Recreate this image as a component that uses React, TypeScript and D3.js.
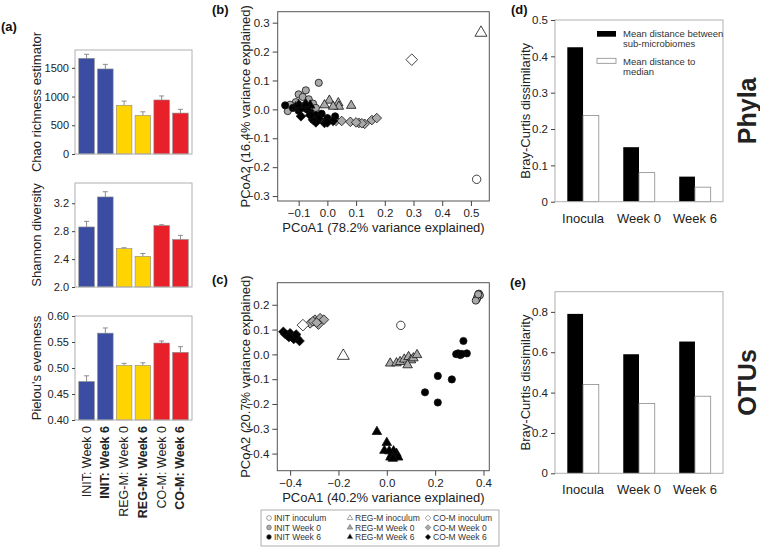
import { useEffect, useRef } from "react";
import * as d3 from "d3";

const FONT = "'Liberation Sans', Arial, Helvetica, sans-serif";

// ---- (a) alpha diversity ----
const groups = ["INIT: Week 0", "INIT: Week 6", "REG-M: Week 0", "REG-M: Week 6", "CO-M: Week 0", "CO-M: Week 6"];
const groupBold = [false, true, false, true, false, true];
const groupColors = ["#3b4da2", "#3b4da2", "#ffd400", "#ffd400", "#e8202a", "#e8202a"];

const chaoMean = [1665, 1480, 848, 672, 940, 712];
const chaoErr = [70, 80, 72, 62, 70, 65];
const chaoTicks = [0, 500, 1000, 1500];

const shannonMean = [2.86, 3.29, 2.55, 2.44, 2.88, 2.68];
const shannonErr = [0.08, 0.075, 0.012, 0.04, 0.012, 0.06];
const shannonTicks = [2.0, 2.4, 2.8, 3.2];

const pielouMean = [0.474, 0.567, 0.505, 0.505, 0.548, 0.53];
const pielouErr = [0.011, 0.01, 0.004, 0.005, 0.004, 0.011];
const pielouTicks = [0.4, 0.45, 0.5, 0.55, 0.6];

// ---- (b) PCoA phyla ----
const phylaInitInoc = [[0.52, -0.242]];
const phylaInitW0 = [[-0.03, 0.092], [-0.075, 0.066], [-0.1, 0.052], [-0.086, 0.043], [-0.065, 0.035], [-0.11, 0.025], [-0.138, -0.006], [-0.12, 0.01], [-0.05, 0.02], [-0.09, 0.012], [-0.04, 0.005], [-0.13, 0.016]];
const phylaInitW6 = [[-0.147, 0.014], [-0.12, 0.005], [-0.1, -0.005], [-0.06, -0.01], [-0.04, -0.02], [-0.02, -0.015], [0.0, -0.03], [0.027, -0.024], [-0.07, 0.0], [-0.05, -0.035]];
const phylaRegInoc = [[0.535, 0.265]];
const phylaRegW0 = [[0.007, 0.031], [0.038, 0.022], [0.083, 0.013], [0.04, 0.01], [0.02, 0.01], [-0.01, 0.015]];
const phylaRegW6 = [[-0.11, 0.008], [-0.095, 0.01], [-0.08, 0.012], [-0.07, 0.006], [-0.06, 0.014], [-0.09, 0.003], [-0.1, 0.015], [-0.075, 0.018]];
const phylaCoInoc = [[0.294, 0.172]];
const phylaCoW0 = [[0.0, -0.035], [0.03, -0.04], [0.05, -0.04], [0.08, -0.043], [0.11, -0.047], [0.13, -0.05], [0.12, -0.048], [0.155, -0.037], [0.172, -0.03], [0.1, -0.045]];
const phylaCoW6 = [[-0.092, -0.024], [-0.05, -0.036], [-0.03, -0.032], [-0.01, -0.047], [0.02, -0.04], [-0.06, -0.02], [-0.04, -0.045], [0.0, -0.045]];

// ---- (c) PCoA OTUs ----
const otuInitInoc = [[0.058, 0.117]];
const otuInitW0 = [[0.372, 0.222], [0.376, 0.235], [0.381, 0.245], [0.385, 0.238], [0.374, 0.228], [0.368, 0.217], [0.378, 0.242]];
const otuInitW6 = [[0.317, 0.054], [0.287, 0.001], [0.304, -0.003], [0.331, 0.004], [0.295, 0.004], [0.269, -0.101], [0.211, -0.087], [0.158, -0.153], [0.211, -0.194], [0.31, 0.002]];
const otuRegInoc = [[-0.18, -0.006]];
const otuRegW0 = [[0.014, -0.036], [0.04, -0.035], [0.055, -0.03], [0.072, -0.02], [0.09, -0.01], [0.1, -0.023], [0.086, -0.043], [0.11, -0.015], [0.125, -0.002]];
const otuRegW6 = [[-0.041, -0.312], [0.0, -0.356], [-0.01, -0.388], [0.02, -0.405], [0.035, -0.41], [0.015, -0.415], [0.04, -0.4], [0.028, -0.39], [0.047, -0.415], [0.01, -0.39], [0.025, -0.42]];
const otuCoInoc = [[-0.347, 0.118]];
const otuCoW0 = [[-0.317, 0.125], [-0.297, 0.14], [-0.276, 0.146], [-0.26, 0.14], [-0.283, 0.12], [-0.306, 0.133], [-0.29, 0.128]];
const otuCoW6 = [[-0.428, 0.091], [-0.414, 0.078], [-0.393, 0.071], [-0.372, 0.065], [-0.361, 0.054], [-0.4, 0.085], [-0.385, 0.062], [-0.42, 0.082], [-0.405, 0.07], [-0.375, 0.08]];

const seriesNames = ["INIT inoculum", "INIT Week 0", "INIT Week 6", "REG-M inoculum", "REG-M Week 0", "REG-M Week 6", "CO-M inoculum", "CO-M Week 0", "CO-M Week 6"];
const seriesShape = ["circle", "circle", "circle", "triangle", "triangle", "triangle", "diamond", "diamond", "diamond"];
const seriesFill = ["#fff", "#a9a9a9", "#000", "#fff", "#a9a9a9", "#000", "#fff", "#a9a9a9", "#000"];
const phylaSeries = [phylaInitInoc, phylaInitW0, phylaInitW6, phylaRegInoc, phylaRegW0, phylaRegW6, phylaCoInoc, phylaCoW0, phylaCoW6];
const otuSeries = [otuInitInoc, otuInitW0, otuInitW6, otuRegInoc, otuRegW0, otuRegW6, otuCoInoc, otuCoW0, otuCoW6];
// draw grey first, then black, then open inocula
const drawOrder = [1, 4, 7, 2, 5, 8, 0, 3, 6];

// ---- (d)/(e) Bray-Curtis ----
const bcCats = ["Inocula", "Week 0", "Week 6"];
const phylaBetween = [0.425, 0.15, 0.069];
const phylaMedian = [0.237, 0.08, 0.04];
const otuBetween = [0.79, 0.59, 0.653];
const otuMedian = [0.44, 0.346, 0.382];

const shapePath = (shape: string, s: number) => {
  if (shape === "circle") return `M${s},0A${s},${s} 0 1,1 ${-s},0A${s},${s} 0 1,1 ${s},0Z`;
  if (shape === "triangle") {
    const h = (s * Math.sqrt(3)) / 2;
    return `M0,${(-h * 2) / 3}L${s / 2},${h / 3}L${-s / 2},${h / 3}Z`;
  }
  return `M0,${-s}L${s},0L0,${s}L${-s},0Z`;
};

const markSize = (shape: string, inoc: boolean) => {
  if (shape === "circle") return inoc ? 4.2 : 3.6;
  if (shape === "triangle") return inoc ? 12 : 9.5;
  return inoc ? 5.8 : 4.8;
};

const Axis = ({ axis, transform, fontSize = 11 }: any) => {
  const ref = useRef<SVGGElement>(null);
  useEffect(() => {
    const g = d3.select(ref.current);
    g.call(axis);
    g.select(".domain").remove();
    g.selectAll(".tick line").attr("stroke", "#444");
    g.selectAll(".tick text")
      .attr("font-size", fontSize)
      .attr("font-family", FONT)
      .attr("fill", "#222");
  }, [axis]);
  return <g ref={ref} transform={transform} />;
};

const RotLabel = ({ x, y, text, size = 13, bold = false }: any) => (
  <text
    transform={`translate(${x},${y}) rotate(-90)`}
    textAnchor="middle"
    dominantBaseline="central"
    fontSize={size}
    fontWeight={bold ? "bold" : "normal"}
    fill="#222"
  >
    {text}
  </text>
);

const barX = d3.scaleBand().domain(groups).range([75, 192]).paddingInner(0.17).paddingOuter(0.2);

const AlphaPanel = ({ top, bottom, domain, ticks, fmt, mean, err, label }: any) => {
  const y = d3.scaleLinear().domain(domain).range([bottom, top]);
  const yAxis = d3.axisLeft(y).tickValues(ticks).tickFormat(fmt).tickSize(3).tickPadding(3);
  return (
    <g>
      {groups.map((g, i) => {
        const x0 = barX(g)!;
        const cx = x0 + barX.bandwidth() / 2;
        const yt = y(mean[i]);
        const ye = y(mean[i] + err[i]);
        return (
          <g key={g}>
            <line x1={cx} x2={cx} y1={yt} y2={ye} stroke="#8c8c8c" strokeWidth={1} />
            <line x1={cx - 2.5} x2={cx + 2.5} y1={ye} y2={ye} stroke="#8c8c8c" strokeWidth={1} />
            <rect x={x0} y={yt} width={barX.bandwidth()} height={bottom - yt} fill={groupColors[i]} stroke="#8a8a8a" strokeWidth={0.6} />
          </g>
        );
      })}
      <rect x={75} y={top} width={117} height={bottom - top} fill="none" stroke="#b0b0b0" strokeWidth={1} />
      <Axis axis={yAxis} transform="translate(75,0)" />
      <RotLabel x={36} y={(top + bottom) / 2} text={label} />
    </g>
  );
};

const Scatter = ({ frame, xDomain, yDomain, xTicks, yTicks, series, xLabel, yLabel }: any) => {
  const [l, t, r, b] = frame;
  const x = d3.scaleLinear().domain(xDomain).range([l, r]);
  const y = d3.scaleLinear().domain(yDomain).range([b, t]);
  const xAxis = d3.axisBottom(x).tickValues(xTicks).tickFormat(d3.format(".1f")).tickSize(5).tickPadding(3);
  const yAxis = d3.axisLeft(y).tickValues(yTicks).tickFormat(d3.format(".1f")).tickSize(5).tickPadding(3);
  return (
    <g>
      {drawOrder.map((si) =>
        series[si].map((p: number[], j: number) => (
          <path
            key={`${si}-${j}`}
            d={shapePath(seriesShape[si], markSize(seriesShape[si], si % 3 === 0))}
            transform={`translate(${x(p[0])},${y(p[1])})`}
            fill={seriesFill[si]}
            stroke="#111"
            strokeWidth={0.8}
          />
        ))
      )}
      <rect x={l} y={t} width={r - l} height={b - t} fill="none" stroke="#555" strokeWidth={1} />
      <Axis axis={xAxis} transform={`translate(0,${b})`} fontSize={11.5} />
      <Axis axis={yAxis} transform={`translate(${l},0)`} fontSize={11.5} />
      <RotLabel x={245} y={(t + b) / 2} text={yLabel} />
      <text x={(l + r) / 2} y={b + 31} textAnchor="middle" fontSize={13} fill="#222">
        {xLabel}
      </text>
    </g>
  );
};

const bcX = d3.scaleBand().domain(bcCats).range([555, 723]).paddingInner(0.4375).paddingOuter(0.22);

const BrayPanel = ({ top, bottom, max, ticks, between, median, title }: any) => {
  const y = d3.scaleLinear().domain([0, max]).range([bottom, top]);
  const yAxis = d3
    .axisLeft(y)
    .tickValues(ticks)
    .tickFormat((d: any) => (d === 0 ? "0" : d3.format(".1f")(d)))
    .tickSize(4)
    .tickPadding(3);
  const w = bcX.bandwidth() / 2;
  return (
    <g>
      {bcCats.map((c, i) => (
        <g key={c}>
          <rect x={bcX(c)!} y={y(between[i])} width={w} height={bottom - y(between[i])} fill="#000" />
          <rect x={bcX(c)! + w} y={y(median[i])} width={w} height={bottom - y(median[i])} fill="#fff" stroke="#8a8a8a" strokeWidth={0.8} />
          <text x={bcX(c)! + w} y={bottom + 21} textAnchor="middle" fontSize={13} fill="#222">
            {c}
          </text>
        </g>
      ))}
      <rect x={555} y={top} width={168} height={bottom - top} fill="none" stroke="#b0b0b0" strokeWidth={1} />
      <Axis axis={yAxis} transform="translate(555,0)" fontSize={11.5} />
      <RotLabel x={525} y={(top + bottom) / 2} text="Bray-Curtis dissimilarity" />
      <RotLabel x={747} y={(top + bottom) / 2} text={title} size={25} bold />
    </g>
  );
};

const legendCols = [269, 350, 428];
const legendRows = [518, 527.5, 537];

const App = () => {
  return (
    <svg
      width={760}
      height={557}
      viewBox="0 0 760 557"
      style={{ position: "absolute", left: 0, top: 0, background: "#fff" }}
      fontFamily={FONT}
    >
      {/* panel letters */}
      <text x={1} y={31} fontSize={13} fontWeight="bold" fill="#111">(a)</text>
      <text x={212} y={14} fontSize={13} fontWeight="bold" fill="#111">(b)</text>
      <text x={212} y={284} fontSize={13} fontWeight="bold" fill="#111">(c)</text>
      <text x={511} y={14} fontSize={13} fontWeight="bold" fill="#111">(d)</text>
      <text x={510} y={287} fontSize={13} fontWeight="bold" fill="#111">(e)</text>

      {/* (a) */}
      <AlphaPanel top={50} bottom={154} domain={[0, 1810]} ticks={chaoTicks} fmt={d3.format("d")} mean={chaoMean} err={chaoErr} label="Chao richness estimator" />
      <AlphaPanel top={183} bottom={287} domain={[2.0, 3.49]} ticks={shannonTicks} fmt={d3.format(".1f")} mean={shannonMean} err={shannonErr} label="Shannon diversity" />
      <AlphaPanel top={316} bottom={420} domain={[0.4, 0.6]} ticks={pielouTicks} fmt={d3.format(".2f")} mean={pielouMean} err={pielouErr} label="Pielou's evenness" />
      {groups.map((g, i) => (
        <text
          key={g}
          transform={`translate(${barX(g)! + barX.bandwidth() / 2},426) rotate(-90)`}
          textAnchor="end"
          dominantBaseline="central"
          fontSize={12.5}
          fontWeight={groupBold[i] ? "bold" : "normal"}
          fill="#222"
        >
          {g}
        </text>
      ))}

      {/* (b) */}
      <Scatter
        frame={[277.7, 11.7, 489.3, 201]}
        xDomain={[-0.173, 0.564]}
        yDomain={[-0.317, 0.338]}
        xTicks={[-0.1, 0, 0.1, 0.2, 0.3, 0.4, 0.5]}
        yTicks={[-0.3, -0.2, -0.1, 0, 0.1, 0.2, 0.3]}
        series={phylaSeries}
        xLabel="PCoA1 (78.2% variance explained)"
        yLabel="PCoA2 (16.4% variance explained)"
      />

      {/* (c) */}
      <Scatter
        frame={[277.3, 282.7, 489.3, 470.7]}
        xDomain={[-0.453, 0.424]}
        yDomain={[-0.469, 0.289]}
        xTicks={[-0.4, -0.2, 0, 0.2, 0.4]}
        yTicks={[-0.4, -0.3, -0.2, -0.1, 0, 0.1, 0.2]}
        series={otuSeries}
        xLabel="PCoA1 (40.2% variance explained)"
        yLabel="PCoA2 (20.7% variance explained)"
      />

      {/* legend */}
      <rect x={261} y={510} width={238} height={36} fill="#fff" stroke="#999" strokeWidth={0.8} />
      {seriesNames.map((n, i) => {
        const cx = legendCols[Math.floor(i / 3)];
        const cy = legendRows[i % 3];
        const shape = seriesShape[i];
        const s = shape === "circle" ? 2.4 : shape === "triangle" ? 5.5 : 2.8;
        return (
          <g key={n}>
            <path d={shapePath(shape, s)} transform={`translate(${cx},${cy})`} fill={seriesFill[i]} stroke="#666" strokeWidth={0.6} />
            <text x={cx + 5} y={cy} dominantBaseline="central" fontSize={8.5} fill="#333">
              {n}
            </text>
          </g>
        );
      })}

      {/* (d) */}
      <BrayPanel top={20} bottom={201.7} max={0.5} ticks={[0, 0.1, 0.2, 0.3, 0.4, 0.5]} between={phylaBetween} median={phylaMedian} title="Phyla" />
      <rect x={597} y={31} width={19} height={5.7} fill="#000" />
      <rect x={597} y={58.3} width={19} height={5} fill="#fff" stroke="#8a8a8a" strokeWidth={0.8} />
      <text x={623} y={36.5} fontSize={9.5} fill="#333">Mean distance between</text>
      <text x={623} y={46.5} fontSize={9.5} fill="#333">sub-microbiomes</text>
      <text x={623} y={65} fontSize={9.5} fill="#333">Mean distance to</text>
      <text x={623} y={75} fontSize={9.5} fill="#333">median</text>

      {/* (e) */}
      <BrayPanel top={291.7} bottom={473.3} max={0.9} ticks={[0, 0.2, 0.4, 0.6, 0.8]} between={otuBetween} median={otuMedian} title="OTUs" />
    </svg>
  );
};

export default App;
